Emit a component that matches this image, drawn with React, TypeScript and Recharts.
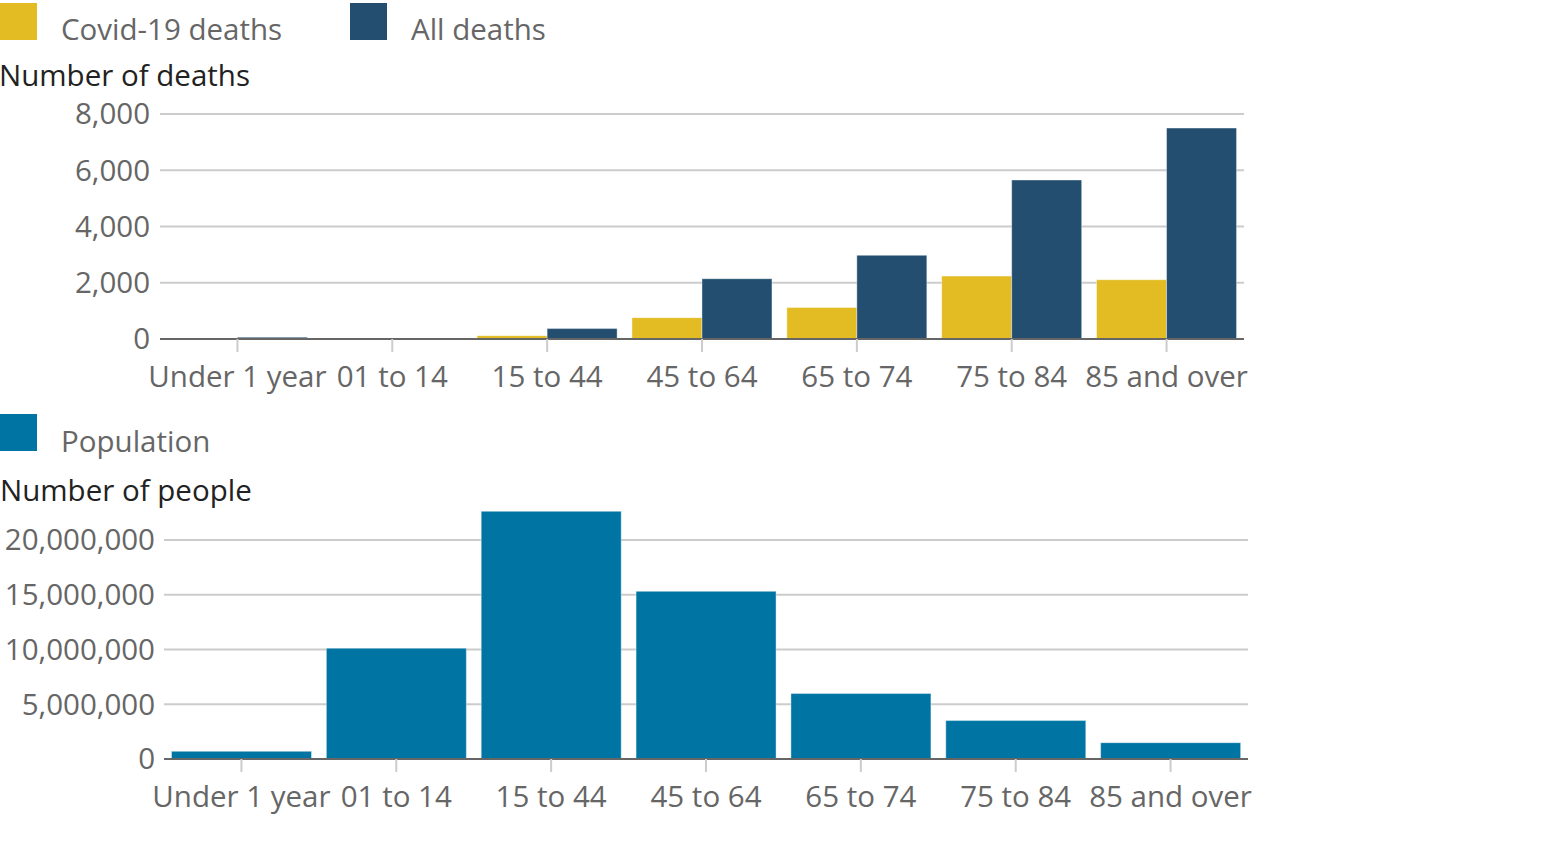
import React from "react";
import { BarChart, Bar, XAxis, YAxis, CartesianGrid } from "recharts";

const categories = ["Under 1 year", "01 to 14", "15 to 44", "45 to 64", "65 to 74", "75 to 84", "85 and over"];
const covidDeaths = [2, 3, 120, 760, 1118, 2236, 2107];
const allDeaths = [65, 40, 370, 2143, 2975, 5654, 7500];
const population = [700000, 10120000, 22620000, 15310000, 5980000, 3510000, 1490000];
const deathTicks = [0, 2000, 4000, 6000, 8000];
const peopleTicks = [0, 5000000, 10000000, 15000000, 20000000];

const deathsData = categories.map((cat, i) => ({ cat, covid: covidDeaths[i], all: allDeaths[i] }));
const popData = categories.map((cat, i) => ({ cat, pop: population[i] }));

const FONT = '"Open Sans", sans-serif';
const FS = 29.5;
const TICK_COLOR = "#666666";
const fmt = (v: number) => v.toLocaleString("en-US");

const Square = ({ left, top, color }: { left: number; top: number; color: string }) => (
  <div style={{ position: "absolute", left, top, width: 37, height: 37, background: color }} />
);
const Label = ({ left, top, text, color }: { left: number; top: number; text: string; color: string }) => (
  <div style={{ position: "absolute", left, top, fontSize: FS, lineHeight: "38px", color, whiteSpace: "nowrap", fontFamily: FONT }}>
    {text}
  </div>
);

export default function App() {
  return (
    <div style={{ position: "absolute", left: 0, top: 0, width: 1547, height: 843, background: "#fff", fontFamily: FONT, overflow: "hidden" }}>
      <div style={{ position: "absolute", left: 0, top: 0 }}>
        <BarChart width={1547} height={400} data={deathsData} margin={{ top: 114, right: 303, left: 0, bottom: 0 }} barCategoryGap={7.4} barGap={0}>
          <CartesianGrid vertical={false} stroke="#cccccc" strokeWidth={2} horizontalValues={deathTicks} />
          <XAxis
            xAxisId="edge"
            type="number"
            domain={[0, 7]}
            ticks={[0, 7]}
            height={0}
            axisLine={false}
            tickSize={13}
            tickLine={{ stroke: "#666666", strokeWidth: 2 }}
            tickFormatter={() => ""}
            allowDataOverflow
          />
          <XAxis
            xAxisId="cat"
            dataKey="cat"
            interval={0}
            height={61}
            tickSize={13}
            tickMargin={14}
            axisLine={{ stroke: "#666666", strokeWidth: 2 }}
            tickLine={{ stroke: "#cccccc", strokeWidth: 2 }}
            tick={{ fill: TICK_COLOR, fontSize: FS, fontFamily: FONT }}
          />
          <YAxis
            width={160}
            domain={[0, 8000]}
            ticks={deathTicks}
            axisLine={false}
            tickLine={false}
            tickSize={0}
            tickMargin={10}
            tickFormatter={fmt}
            tick={{ fill: TICK_COLOR, fontSize: FS, fontFamily: FONT }}
          />
          <Bar xAxisId="cat" dataKey="covid" name="Covid-19 deaths" fill="#e2bc22" stroke="rgba(255,255,255,0.4)" strokeWidth={1} isAnimationActive={false} />
          <Bar xAxisId="cat" dataKey="all" name="All deaths" fill="#234e70" stroke="rgba(255,255,255,0.4)" strokeWidth={1} isAnimationActive={false} />
        </BarChart>
      </div>
      <div style={{ position: "absolute", left: 0, top: 400 }}>
        <BarChart width={1547} height={420} data={popData} margin={{ top: 111.3, right: 299, left: 0, bottom: 0 }} barCategoryGap={7.5}>
          <CartesianGrid vertical={false} stroke="#cccccc" strokeWidth={2} horizontalValues={peopleTicks} />
          <XAxis
            xAxisId="edge"
            type="number"
            domain={[0, 7]}
            ticks={[0, 7]}
            height={0}
            axisLine={false}
            tickSize={13}
            tickLine={{ stroke: "#666666", strokeWidth: 2 }}
            tickFormatter={() => ""}
            allowDataOverflow
          />
          <XAxis
            xAxisId="cat"
            dataKey="cat"
            interval={0}
            height={61}
            tickSize={13}
            tickMargin={14}
            axisLine={{ stroke: "#666666", strokeWidth: 2 }}
            tickLine={{ stroke: "#cccccc", strokeWidth: 2 }}
            tick={{ fill: TICK_COLOR, fontSize: FS, fontFamily: FONT }}
          />
          <YAxis
            width={164}
            domain={[0, "dataMax"]}
            ticks={peopleTicks}
            axisLine={false}
            tickLine={false}
            tickSize={0}
            tickMargin={9}
            tickFormatter={fmt}
            tick={{ fill: TICK_COLOR, fontSize: FS, fontFamily: FONT }}
          />
          <Bar xAxisId="cat" dataKey="pop" name="Population" fill="#0075a3" stroke="rgba(255,255,255,0.4)" strokeWidth={1} isAnimationActive={false} />
        </BarChart>
      </div>

      <Square left={0} top={3} color="#e2bc22" />
      <Label left={61} top={9.6} text="Covid-19 deaths" color={TICK_COLOR} />
      <Square left={350} top={3} color="#234e70" />
      <Label left={411} top={9.6} text="All deaths" color={TICK_COLOR} />
      <Label left={-1} top={55.6} text="Number of deaths" color="#222222" />

      <Square left={0} top={414} color="#0075a3" />
      <Label left={61} top={421.6} text="Population" color={TICK_COLOR} />
      <Label left={0} top={470.6} text="Number of people" color="#222222" />
    </div>
  );
}
